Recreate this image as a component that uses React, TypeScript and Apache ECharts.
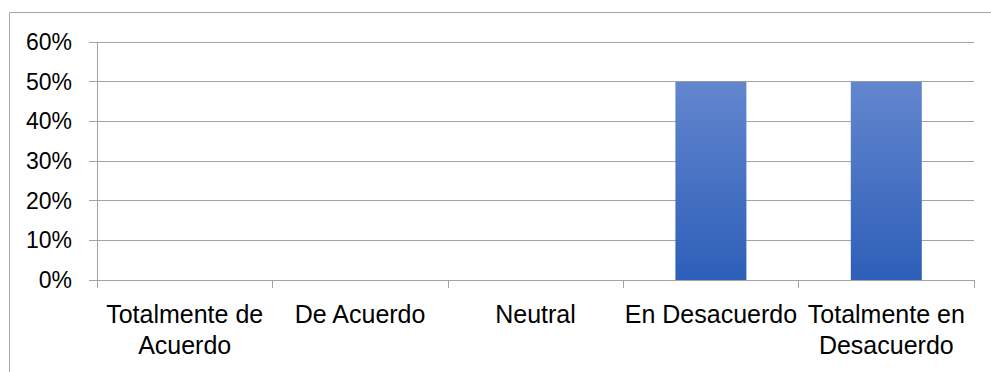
import React, { useEffect, useRef } from "react";
import * as echarts from "echarts";

const categories = [
  "Totalmente de\nAcuerdo",
  "De Acuerdo",
  "Neutral",
  "En Desacuerdo",
  "Totalmente en\nDesacuerdo",
];
const values = [0, 0, 0, 0.5, 0.5];
const yMin = 0;
const yMax = 0.6;
const yStep = 0.1;

export default function App() {
  const ref = useRef<HTMLDivElement>(null);
  useEffect(() => {
    if (!ref.current) return;
    const chart = echarts.init(ref.current, undefined, { renderer: "svg" });
    const gridColor = "#a3a3a3";
    chart.setOption({
      animation: false,
      backgroundColor: "#ffffff",
      textStyle: { fontFamily: "Liberation Sans" },
      graphic: [
        {
          type: "rect",
          shape: { x: 9.5, y: 12.5, width: 1100, height: 500 },
          style: { fill: "none", stroke: "#a6a6a6", lineWidth: 1 },
          silent: true,
        },
      ],
      grid: { left: 97, right: 17, top: 42, bottom: 92, containLabel: false },
      xAxis: {
        type: "category",
        data: categories,
        axisLine: { show: true, lineStyle: { color: gridColor, width: 1 } },
        axisTick: { show: true, length: 8, alignWithLabel: false, lineStyle: { color: gridColor } },
        axisLabel: {
          color: "#000",
          fontSize: 25,
          lineHeight: 31,
          margin: 18,
          interval: 0,
          fontFamily: "Liberation Sans",
        },
        splitLine: { show: false },
      },
      yAxis: {
        type: "value",
        min: yMin,
        max: yMax,
        interval: yStep,
        axisLine: { show: true, lineStyle: { color: gridColor, width: 1 } },
        axisTick: { show: true, length: 8, lineStyle: { color: gridColor } },
        axisLabel: {
          color: "#000",
          fontSize: 23,
          margin: 25,
          fontFamily: "Liberation Sans",
          formatter: (v: number) => Math.round(v * 100) + "%",
        },
        splitLine: { show: true, lineStyle: { color: gridColor, width: 1 } },
      },
      series: [
        {
          type: "bar",
          data: values,
          barWidth: 71,
          itemStyle: {
            color: new echarts.graphic.LinearGradient(0, 0, 0, 1, [
              { offset: 0, color: "#6386ce" },
              { offset: 1, color: "#2d5fb9" },
            ]),
          },
        },
      ],
    });
    return () => chart.dispose();
  }, []);
  return (
    <div
      ref={ref}
      style={{ position: "absolute", left: 0, top: 0, width: 991, height: 372 }}
    />
  );
}
